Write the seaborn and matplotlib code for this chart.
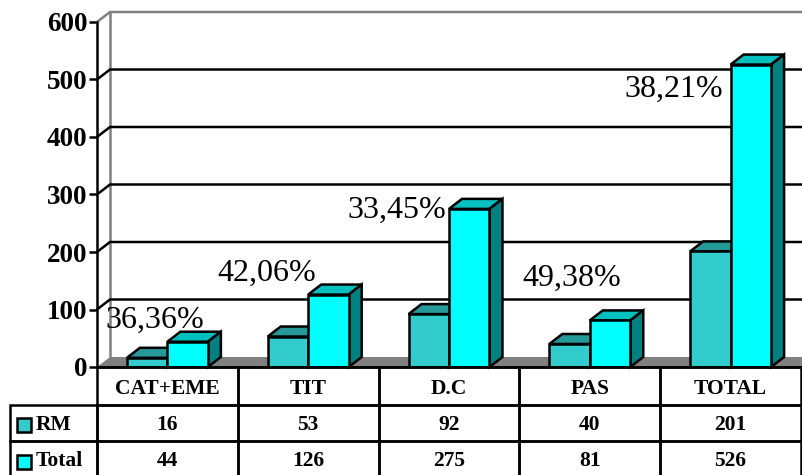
import matplotlib
matplotlib.use('Agg')
import matplotlib.pyplot as plt
from matplotlib.patches import Polygon, Rectangle
import pandas as pd
import seaborn as sns

categories = ['CAT+EME', 'TIT', 'D.C', 'PAS', 'TOTAL']
rm_values = [16, 53, 92, 40, 201]
total_values = [44, 126, 275, 81, 526]
percent_labels = ['36,36%', '42,06%', '33,45%', '49,38%', '38,21%']
y_ticks = [0, 100, 200, 300, 400, 500, 600]

# label offset from top left of Total bar, in pixels
label_offsets = [(-62, 14), (-91, 14), (-102, -9), (-67, 35), (-106, -32)]

W, H = 803, 475
L, R, T, B = 97, 801, 22, 367
DX_PX, DY_PX = 13, 10
LW = 1.8

colors = {'RM': '#33CCCC', 'Total': '#00FFFF'}
top_colors = {'RM': '#269999', 'Total': '#00BFBF'}
side_colors = {'RM': '#1F8080', 'Total': '#008080'}

sns.set_style('white')
plt.rcParams['font.family'] = ['Liberation Serif', 'DejaVu Serif']
plt.rcParams['text.color'] = 'black'
plt.rcParams['ytick.labelcolor'] = 'black'

df = pd.DataFrame({
    'cat': categories * 2,
    'series': ['RM'] * 5 + ['Total'] * 5,
    'value': rm_values + total_values,
})

fig = plt.figure(figsize=(W / 100, H / 100), dpi=100)
ax = fig.add_axes([L / W, 1 - B / H, (R - L) / W, (B - T) / H])
ax.patch.set_alpha(0)

sns.barplot(data=df, x='cat', y='value', hue='series', palette=colors, width=0.575,
            gap=0, saturation=1, edgecolor='black', linewidth=LW, legend=False, ax=ax)

ax.set_xlim(-0.5, 4.5)
ax.set_ylim(0, 600)
ax.set_xlabel('')
ax.set_ylabel('')
ax.set_xticks([])
ax.set_yticks(y_ticks)
ax.tick_params(axis='y', left=True, length=6, width=LW, pad=1, labelsize=19.5, color='black',
               labelcolor='black')
for t in ax.get_yticklabels():
    t.set_fontweight('bold')
sns.despine(ax=ax, top=True, right=True)
for side in ['left', 'bottom']:
    ax.spines[side].set_linewidth(LW)
    ax.spines[side].set_color('black')
    ax.spines[side].set_zorder(6)

# depth of the fake 3d box in data units
dx = DX_PX * 5 / (R - L)
dy = DY_PX * 600 / (B - T)

# back wall and floor
ax.add_patch(Polygon([(-0.5, 0), (-0.5 + dx, dy), (4.5 + dx, dy), (4.5, 0)], closed=True,
                     facecolor='#808080', edgecolor='none', zorder=1, clip_on=False))
for v in y_ticks[1:]:
    c = '#808080' if v == 600 else 'black'
    ax.plot([-0.5, -0.5 + dx, 4.5 + dx], [v, v + dy, v + dy], color=c, lw=LW,
            zorder=1.5, clip_on=False, solid_joinstyle='miter')
ax.plot([-0.5 + dx, -0.5 + dx], [dy, 600 + dy], color='#808080', lw=LW, zorder=1.4, clip_on=False)

# top and side faces built from the seaborn bars
for container, name, z in zip(ax.containers, ['RM', 'Total'], [3, 4]):
    for bar in container:
        x0 = bar.get_x()
        x1 = x0 + bar.get_width()
        h = bar.get_height()
        bar.set_zorder(z + 0.5)
        ax.add_patch(Polygon([(x0, h), (x0 + dx, h + dy), (x1 + dx, h + dy), (x1, h)], closed=True,
                             facecolor=top_colors[name], edgecolor='black', lw=LW, zorder=z, clip_on=False))
        ax.add_patch(Polygon([(x1, 0), (x1 + dx, dy), (x1 + dx, h + dy), (x1, h)], closed=True,
                             facecolor=side_colors[name], edgecolor='black', lw=LW, zorder=z, clip_on=False))

# percent labels
for bar, text, off in zip(ax.containers[1], percent_labels, label_offsets):
    ax.annotate(text, xy=(bar.get_x(), bar.get_height()), xytext=(off[0] * 0.72, off[1] * 0.72),
                textcoords='offset points', ha='left', va='baseline', fontsize=23,
                color='black', zorder=7, annotation_clip=False)

# data table under the chart
TABLE_L, TABLE_B = 10, 477
row_px = [38, 36, 36]
col_px = [L - TABLE_L] + [(R - L) / 5] * 5
cell_text = [[''] + categories,
             ['RM'] + [str(v) for v in rm_values],
             ['Total'] + [str(v) for v in total_values]]
table = ax.table(cellText=cell_text, cellLoc='center', colWidths=[c / (R - L) for c in col_px],
                 bbox=[(TABLE_L - L) / (R - L), (B - TABLE_B) / (B - T),
                       (R - TABLE_L) / (R - L), (TABLE_B - B) / (B - T)])
table.auto_set_font_size(False)
for (r, c), cell in table.get_celld().items():
    cell.set_height(row_px[r] / (B - T))
    cell.set_linewidth(LW)
    cell.set_edgecolor('black')
    cell.set_facecolor('none')
    cell.get_text().set_fontsize(15.5)
    cell.get_text().set_fontweight('bold')
    cell.get_text().set_color('black')
    cell.get_text().set_verticalalignment('center_baseline')
    if c == 0:
        cell.set_text_props(ha='left')
        cell.PAD = 0.3
    if r == 0 and c == 0:
        cell.visible_edges = ''
table.set_zorder(5)

# legend keys inside the table
for name, y_px in zip(['RM', 'Total'], [418, 455]):
    fig.add_artist(Rectangle((17 / W, 1 - (y_px + 14) / H), 14 / W, 14 / H, transform=fig.transFigure,
                             facecolor=colors[name], edgecolor='black', lw=LW))

fig.savefig('out.png', dpi=100)
